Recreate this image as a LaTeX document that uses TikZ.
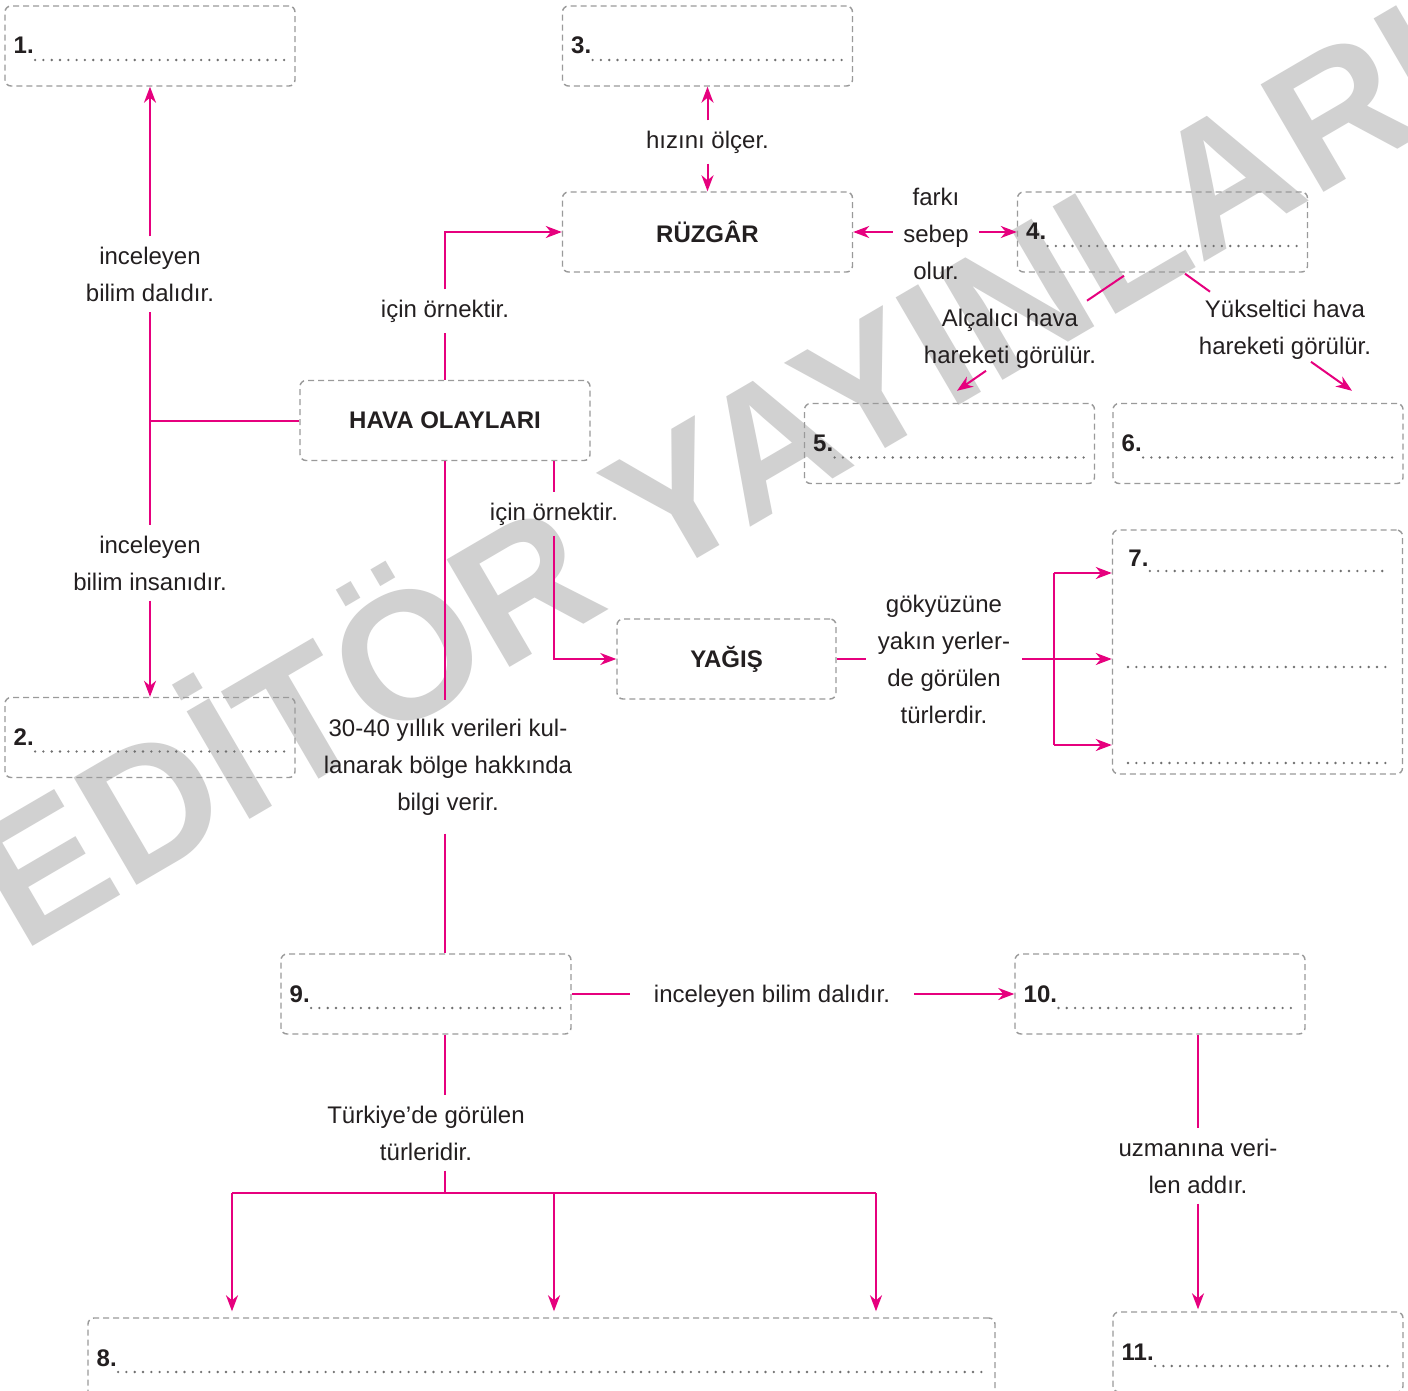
\documentclass[tikz,border=0pt]{standalone}
\usepackage{fontspec}
\setmainfont{Liberation Sans}
\usetikzlibrary{arrows.meta,positioning,calc}
\definecolor{pembe}{HTML}{E6007E}
\definecolor{koyu}{HTML}{231F20}
\definecolor{kesik}{HTML}{9A9A9A}
\definecolor{noktarenk}{HTML}{707070}

\begin{document}
\begin{tikzpicture}[x=0.5pt,y=-0.5pt,
	font=\fontsize{12}{18.5}\selectfont,text=koyu,
	kutu/.style={draw=kesik,dash pattern=on 3pt off 2pt,line width=0.7pt,rounded corners=3pt,minimum width=145pt,minimum height=40pt,inner sep=0pt},
	baslik/.style={kutu,font=\fontsize{12}{14}\selectfont\bfseries},
	no/.style={font=\fontsize{12}{14}\selectfont\bfseries,inner sep=0pt,anchor=base west},
	nokta/.style={draw=noktarenk,line width=1.3pt,line cap=round,dash pattern=on 0pt off 4.15pt},
	etiket/.style={align=center,inner sep=5pt},
	cizgi/.style={draw=pembe,line width=1pt},
	ok/.style={cizgi,-{Stealth[length=8pt,width=6pt,inset=2.5pt]}}]
	\useasboundingbox (0,0) rectangle (1408,1391);
	\fill[white] (0,0) rectangle (1408,1391);
	% filigran
	\node[rotate=30.3,anchor=base west,inner sep=0pt,text=black!18,font=\fontsize{90.5}{90.5}\selectfont\bfseries] (filigran) at (22,953) {EDİTÖR YAYINLARI};

	% ana kutular
	\node[baslik] (hava) at (445,420.5) {HAVA OLAYLARI};
	\node[baslik] (ruzgar) at (707.5,232) {RÜZGÂR};
	\node[baslik,minimum width=109.5pt] (yagis) at (726.5,659) {YAĞIŞ};

	% numarali kutular
	\foreach \n/\p/\g in {1/{150,46}/145pt,3/{707.5,46}/145pt,4/{1162.5,232}/145pt,5/{949.5,443.5}/145pt,6/{1258,443.5}/145pt,2/{150,737.5}/145pt,9/{426,994}/145pt,10/{1160,994}/145pt,8/{541.5,1358}/453.5pt,11/{1258,1352}/145pt}{
		\node[kutu,minimum width=\g] (b\n) at (\p) {};
		\node[no] (n\n) at ([shift={(9,8)}]b\n.west) {\n.};
		\draw[nokta] ($(n\n.base east)+(1,6)$) -- ($(n\n.base east -| b\n.east)+(-8,6)$);
	}
	\node[kutu,minimum height=122pt] (b7) at (1257.5,652) {};
	\node[no] (n7) at (1128,566) {7.};
	\draw[nokta] ($(n7.base east)+(1,5)$) -- ($(n7.base east -| b7.east)+(-15,5)$);
	\draw[nokta] (1128,667) -- (1387,667);
	\draw[nokta] (1128,763) -- (1387,763);

	% etiketler
	\node[etiket] (lblDal) at (150,274) {inceleyen\\bilim dalıdır.};
	\node[etiket] (lblInsan) at (150,563) {inceleyen\\bilim insanıdır.};
	\node[etiket] (lblHiz) at (707.5,142) {hızını ölçer.};
	\node[etiket] (lblOrn1) at (445,311) {için örnektir.};
	\node[etiket] (lblOrn2) at (554,514) {için örnektir.};
	\node[etiket] (lblFark) at (936,234) {farkı\\sebep\\olur.};
	\node[etiket] (lblAlc) at (1010,339) {Alçalıcı hava\\hareketi görülür.};
	\node[etiket] (lblYuk) at (1285,330) {Yükseltici hava\\hareketi görülür.};
	\node[etiket,inner xsep=6pt] (lblGok) at (944,659) {gökyüzüne\\yakın yerler-\\de görülen\\türlerdir.};
	\node[etiket,inner ysep=9pt] (lbl30) at (448,767) {30-40 yıllık verileri kul-\\lanarak bölge hakkında\\bilgi verir.};
	\node[etiket] (lblTur) at (426,1133) {Türkiye’de görülen\\türleridir.};
	\node[etiket,inner xsep=12pt] (lblInc) at (772,996) {inceleyen bilim dalıdır.};
	\node[etiket] (lblUzm) at (1198,1166) {uzmanına veri-\\len addır.};

	% baglantilar
	\coordinate (jl) at (hava.west -| b1.south);
	\draw[cizgi] (hava.west) -- (jl);
	\draw[cizgi] (jl) -- (lblDal);
	\draw[ok] (lblDal) -- (b1);
	\draw[cizgi] (jl) -- (lblInsan);
	\draw[ok] (lblInsan) -- (b2);

	\draw[ok] (lblHiz) -- (b3);
	\draw[ok] (lblHiz) -- (ruzgar);
	\draw[ok] (lblFark.west |- ruzgar) -- (ruzgar);
	\draw[ok] (lblFark.east |- b4) -- (b4);

	\draw[cizgi] (hava) -- (lblOrn1);
	\draw[ok] (lblOrn1) |- (ruzgar);
	\draw[cizgi] (hava.south -| lblOrn2) -- (lblOrn2);
	\draw[ok] (lblOrn2) |- (yagis);

	\draw[cizgi] ([shift={(-38.5,3)}]b4.south) -- ([shift={(-75.5,28)}]b4.south);
	\draw[ok] ([shift={(36.5,-32)}]b5.north) -- ([shift={(7.5,-12)}]b5.north);
	\draw[cizgi] ([shift={(22.5,1)}]b4.south) -- ([shift={(47.5,19)}]b4.south);
	\draw[ok] ([shift={(53,-41)}]b6.north) -- ([shift={(94,-12)}]b6.north);

	\draw[cizgi] (yagis.east) -- (yagis.east -| lblGok.west);
	\coordinate (g1) at (1054,573);
	\coordinate (g2) at (1054,659);
	\coordinate (g3) at (1054,745);
	\draw[cizgi] (lblGok.east |- g2) -- (g2);
	\draw[cizgi] (g1) -- (g3);
	\foreach \g in {g1,g2,g3}
		\draw[ok] (\g) -- (\g -| b7.west);

	\draw[cizgi] (hava.south) -- (hava.south |- lbl30.north);
	\draw[cizgi] (hava.south |- lbl30.south) -- (hava.south |- b9.north);
	\draw[cizgi] (hava.south |- b9.south) -- (hava.south |- lblTur.north);
	\coordinate (t1) at (232,1193);
	\coordinate (t2) at (554,1193);
	\coordinate (t3) at (876,1193);
	\draw[cizgi] (hava.south |- lblTur.south) -- (hava.south |- t1);
	\draw[cizgi] (t1) -- (t3);
	\foreach \t in {t1,t2,t3}
		\draw[ok,shorten >=3pt] (\t) -- (\t |- b8.north);

	\draw[cizgi] (b9) -- (lblInc.west |- b9);
	\draw[ok] (lblInc.east |- b10) -- (b10);
	\draw[cizgi] (lblUzm |- b10.south) -- (lblUzm);
	\draw[ok,shorten >=1pt] (lblUzm) -- (lblUzm |- b11.north);
\end{tikzpicture}
\end{document}
